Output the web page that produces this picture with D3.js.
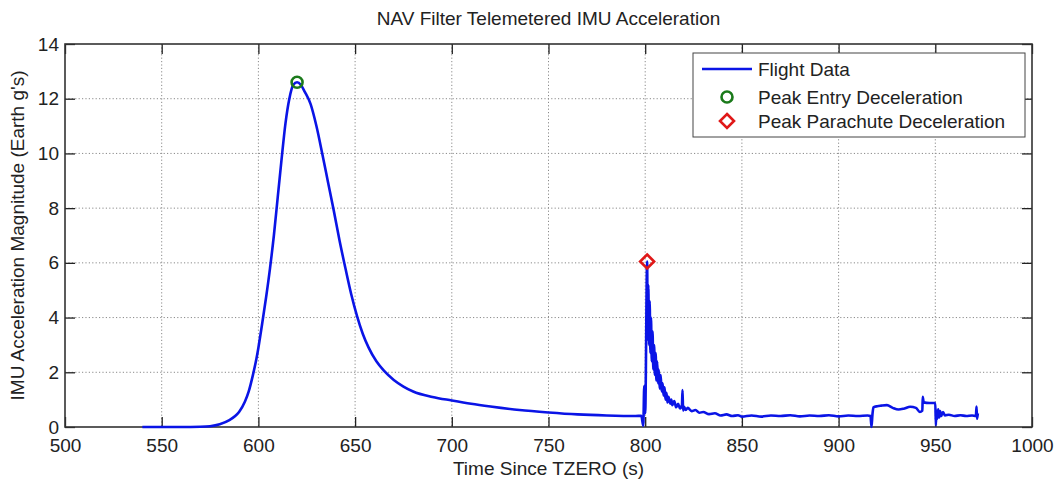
<!DOCTYPE html>
<html>
<head>
<meta charset="utf-8">
<script src="https://cdn.jsdelivr.net/npm/d3@7"></script>
<style>
  body { margin: 0; background: #fff; }
  svg { display: block; font-family: "Liberation Sans", Arial, Helvetica, sans-serif; }
</style>
</head>
<body>
<svg id="chart" width="1060" height="485"></svg>
<script>
// ---- data ----
const chartTitle = "NAV Filter Telemetered IMU Acceleration";
const xLabel = "Time Since TZERO (s)";
const yLabel = "IMU Acceleration Magnitude (Earth g's)";
const xTicks = [500, 550, 600, 650, 700, 750, 800, 850, 900, 950, 1000];
const yTicks = [0, 2, 4, 6, 8, 10, 12, 14];
const legendLabels = ["Flight Data", "Peak Entry Deceleration", "Peak Parachute Deceleration"];

const time = [
  540, 560, 570, 575, 580, 585, 588, 590, 593, 595, 597, 599, 600, 602, 604, 606, 608, 610, 612, 614, 616, 618, 620,
  622, 624, 627, 630, 633, 636, 639, 642, 645, 648, 651, 654, 657, 661, 665, 670, 675, 680, 690, 700, 710, 720, 735,
  750, 765, 780, 795, 798, 799, 799.5, 800, 801,
  801.3, 801.6, 802, 802.3, 802.7, 803, 803.4, 803.8, 804.2, 804.6, 805, 805.4, 805.8, 806.2, 806.6, 807, 807.5, 808,
  808.5, 809, 809.5, 810, 810.5, 811, 811.5, 812, 813, 813.5, 814, 815, 816, 817, 818, 819, 819.3, 819.6, 820, 821,
  822, 824, 826, 828, 830, 833, 836, 839, 842, 845, 848, 850, 855, 860, 865, 870, 875, 880, 885, 890, 895, 900, 905,
  910, 915, 916.5, 917, 917.5, 918, 920, 922, 925, 928, 931, 934, 937, 940, 942, 943.3, 943.5, 944, 947, 950, 950.3,
  950.6, 951, 951.5, 952, 952.5, 953, 954, 955, 957, 960, 963, 966, 969, 971, 971.3, 971.6, 972
];
const accel = [
  0, 0, 0.01, 0.03, 0.1, 0.25, 0.4, 0.55, 0.92, 1.3, 1.85, 2.5, 2.9, 3.8, 4.75, 5.8, 7.0, 8.4, 9.8, 11.1, 12.0, 12.5, 12.6,
  12.5, 12.25, 11.8, 11.0, 10.0, 8.95, 7.9, 6.8, 5.8, 4.85, 4.05, 3.4, 2.9, 2.4, 2.05, 1.72, 1.48, 1.3, 1.1, 0.97, 0.85, 0.75, 0.62,
  0.53, 0.46, 0.42, 0.4, 0.41, 0.05, 1.5, 0.5, 6.05,
  3.2, 5.2, 3.0, 4.6, 2.7, 4.0, 2.4, 3.5, 2.1, 3.0, 1.9, 2.7, 1.7, 2.4, 1.6, 2.1, 1.4, 1.9,
  1.3, 1.6, 1.15, 1.45, 1.0, 1.25, 0.9, 1.1, 0.85, 1.0, 0.8, 0.95, 0.72, 0.85, 0.68, 0.8, 1.35, 0.6, 0.75, 0.62,
  0.7, 0.58, 0.62, 0.52, 0.55, 0.47, 0.5, 0.42, 0.46, 0.4, 0.43, 0.38, 0.42, 0.38, 0.42, 0.4, 0.43, 0.39, 0.42, 0.4, 0.43, 0.39, 0.42,
  0.4, 0.42, 0.4, 0.0, 0.45, 0.72, 0.76, 0.78, 0.8, 0.7, 0.64, 0.68, 0.74, 0.7, 0.55, 0.6, 1.1, 0.9, 0.88, 0.88, 0.07,
  0.6, 0.3, 0.65, 0.35, 0.58, 0.4, 0.55, 0.42, 0.45, 0.4, 0.43, 0.4, 0.42, 0.4, 0.75, 0.3, 0.5
];
const peakEntry = { t: 620, a: 12.6 };
const peakChute = { t: 801, a: 6.05 };

// ---- layout ----
const svg = d3.select("#chart");
const X0 = 65, X1 = 1032, Y0 = 427, Y1 = 44;
const x = d3.scaleLinear().domain([500, 1000]).range([X0, X1]);
const y = d3.scaleLinear().domain([0, 14]).range([Y0, Y1]);
const FS = 19;
const blue = "#0a14e6", green = "#1b7a1b", red = "#e01818";

// grid
const grid = svg.append("g").attr("stroke", "#8a8a8a").attr("stroke-width", 1).attr("stroke-dasharray", "1.2,2.2");
grid.selectAll(".gx").data(xTicks.slice(1, -1)).enter().append("line")
  .attr("x1", d => x(d)).attr("x2", d => x(d)).attr("y1", Y1).attr("y2", Y0);
grid.selectAll(".gy").data(yTicks.slice(1, -1)).enter().append("line")
  .attr("x1", X0).attr("x2", X1).attr("y1", d => y(d)).attr("y2", d => y(d));

// axes (ticks inward)
function styleAxis(g) {
  g.select(".domain").remove();
  g.selectAll(".tick line").attr("stroke", "#222").attr("stroke-width", 1.3);
  g.selectAll(".tick text").attr("fill", "#222").attr("font-size", FS).attr("font-family", "Liberation Sans, Arial, sans-serif");
}
svg.append("g").attr("transform", `translate(0,${Y0})`)
  .call(d3.axisBottom(x).tickValues(xTicks).tickSize(-10).tickPadding(12).tickFormat(d3.format("d"))).call(styleAxis);
svg.append("g").attr("transform", `translate(0,${Y1})`)
  .call(d3.axisTop(x).tickValues(xTicks).tickSize(-10).tickFormat("")).call(styleAxis);
svg.append("g").attr("transform", `translate(${X0},0)`)
  .call(d3.axisLeft(y).tickValues(yTicks).tickSize(-10).tickPadding(6).tickFormat(d3.format("d"))).call(styleAxis);
svg.append("g").attr("transform", `translate(${X1},0)`)
  .call(d3.axisRight(y).tickValues(yTicks).tickSize(-10).tickFormat("")).call(styleAxis);

svg.append("rect").attr("x", X0).attr("y", Y1).attr("width", X1 - X0).attr("height", Y0 - Y1)
  .attr("fill", "none").attr("stroke", "#333").attr("stroke-width", 1.6);

// data line
const pts = time.map((t, i) => [t, accel[i]]);
const line = d3.line().x(d => x(d[0])).y(d => y(d[1])).curve(d3.curveMonotoneX);
svg.append("path").datum(pts).attr("d", line).attr("fill", "none")
  .attr("stroke", blue).attr("stroke-width", 2.6).attr("stroke-linejoin", "round");

// markers
const diamond = (cx, cy, r) => `M${cx},${cy - r}L${cx + r},${cy}L${cx},${cy + r}L${cx - r},${cy}Z`;
svg.append("circle").attr("cx", x(peakEntry.t)).attr("cy", y(peakEntry.a)).attr("r", 5.5)
  .attr("fill", "none").attr("stroke", green).attr("stroke-width", 2.6);
svg.append("path").attr("d", diamond(x(peakChute.t), y(peakChute.a), 7))
  .attr("fill", "none").attr("stroke", red).attr("stroke-width", 2.6);

// title & labels
svg.append("text").attr("x", (X0 + X1) / 2).attr("y", 25).attr("text-anchor", "middle")
  .attr("font-size", FS).attr("fill", "#222").text(chartTitle);
svg.append("text").attr("x", (X0 + X1) / 2).attr("y", 475).attr("text-anchor", "middle")
  .attr("font-size", FS).attr("fill", "#222").text(xLabel);
svg.append("text").attr("transform", `translate(24,${(Y0 + Y1) / 2}) rotate(-90)`).attr("text-anchor", "middle")
  .attr("font-size", FS).attr("fill", "#222").text(yLabel);

// legend
const lg = svg.append("g");
lg.append("rect").attr("x", 693).attr("y", 53).attr("width", 332).attr("height", 84)
  .attr("fill", "#fff").attr("stroke", "#444").attr("stroke-width", 1);
const rowY = [69, 97, 121];
lg.append("line").attr("x1", 702).attr("x2", 752).attr("y1", rowY[0]).attr("y2", rowY[0])
  .attr("stroke", blue).attr("stroke-width", 2.6);
lg.append("circle").attr("cx", 727).attr("cy", rowY[1]).attr("r", 5.5)
  .attr("fill", "none").attr("stroke", green).attr("stroke-width", 2.6);
lg.append("path").attr("d", diamond(727, rowY[2], 7))
  .attr("fill", "none").attr("stroke", red).attr("stroke-width", 2.6);
lg.selectAll(".lt").data(legendLabels).enter().append("text")
  .attr("x", 758).attr("y", (d, i) => rowY[i] + 7).attr("font-size", FS).attr("fill", "#222").text(d => d);
</script>
</body>
</html>
